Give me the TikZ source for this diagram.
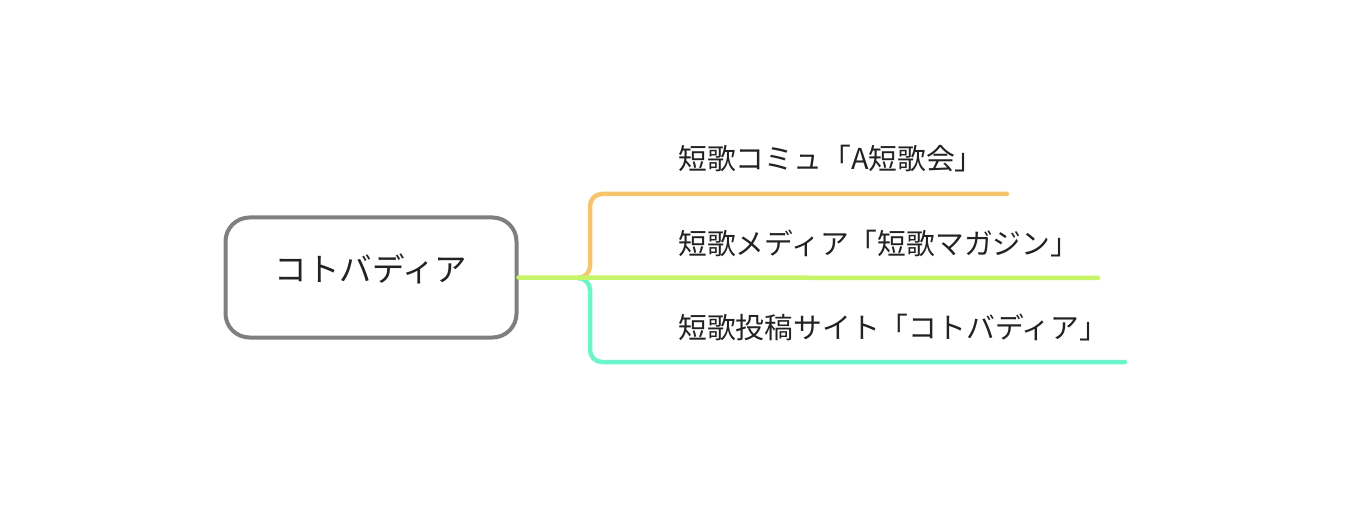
\documentclass[tikz,border=0pt]{standalone}
\usepackage{fontspec}
\setmainfont{Noto Sans CJK JP}
\definecolor{rootgray}{HTML}{7F7F7F}
\definecolor{brorange}{HTML}{F7C46E}
\definecolor{brgreen}{HTML}{C8F46A}
\definecolor{brteal}{HTML}{6CF5CB}
\definecolor{inkblack}{HTML}{222222}

\begin{document}
\begin{tikzpicture}[x=1pt, y=-1pt]
 \tikzstyle{rootbox}=[rectangle, draw=rootgray, line width=4pt, rounded corners=24pt, minimum width=291pt, minimum height=120pt, text=inkblack, font=\fontsize{32.5}{36}\selectfont, text depth=19pt]
 \tikzstyle{leaf}=[anchor=west, inner sep=0pt, text=inkblack, font=\fontsize{28.8}{32}\selectfont]
 \tikzstyle{branch}=[line width=4.5pt, line cap=round, rounded corners=12pt]
 %
 \useasboundingbox (0, 0) rectangle (1372, 526);
 %
 \node[rootbox] (kotoba) at (371, 277.5) {コトバディア};
 %
 \node[leaf] (komyu) at (678, 158.5) {短歌コミュ「A短歌会」};
 \node[leaf] (media) at (678, 243.5) {短歌メディア「短歌マガジン」};
 \node[leaf] (toukou) at (678, 327.5) {短歌投稿サイト「コトバディア」};
 %
 \coordinate (fork) at (578, 278);
 \coordinate (endA) at (1007, 194);
 \coordinate (endB) at (1098, 278);
 \coordinate (endC) at (1125, 362);
 %%
 \draw[branch, brorange] (fork) -- ++(12, 0) |- (endA);
 \draw[branch, brteal] (fork) -- ++(12, 0) |- (endC);
 \draw[branch, brgreen] (kotoba.east) -- (endB);
\end{tikzpicture}
\end{document}
